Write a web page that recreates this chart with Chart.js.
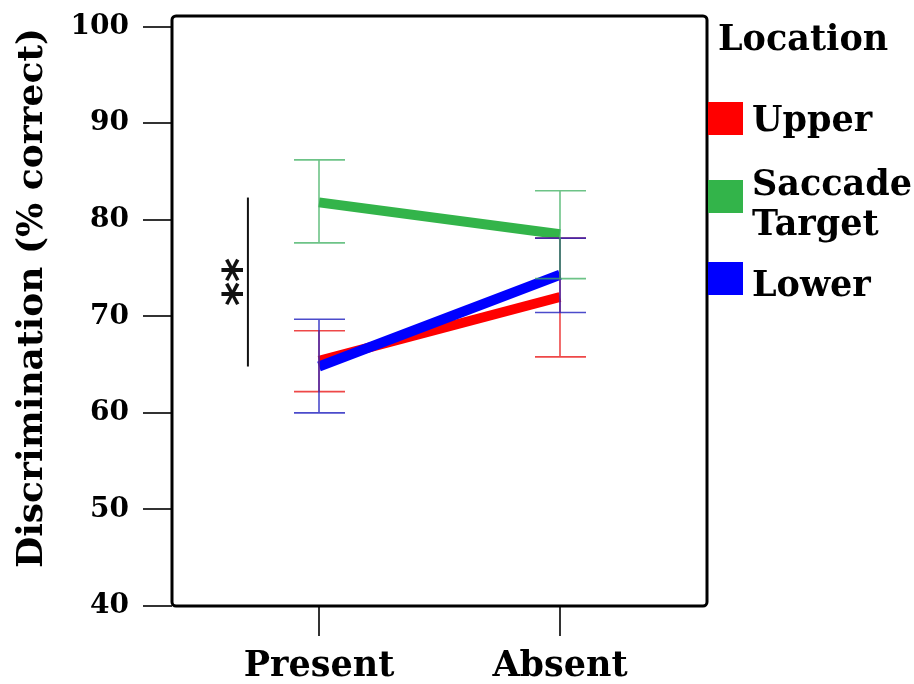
<!DOCTYPE html>
<html>
<head>
<meta charset="utf-8">
<script src="https://cdn.jsdelivr.net/npm/chart.js@4.4.0/dist/chart.umd.min.js"></script>
<style>
  html, body { margin: 0; padding: 0; background: #ffffff; }
  #wrap { width: 914px; height: 684px; position: relative; }
</style>
</head>
<body>
<div id="wrap"><canvas id="c" width="914" height="684"></canvas></div>
<script>
// ---- data ----
const categories = ['Present', 'Absent'];
const seriesNames = ['Upper', 'Saccade Target', 'Lower'];
const legendTitle = 'Location';
const yTitle = 'Discrimination (% correct)';

const upperMean = [65.4, 72.0];
const upperLow = [62.2, 65.8];
const upperHigh = [68.5, 78.1];

const saccadeMean = [81.8, 78.5];
const saccadeLow = [77.6, 73.9];
const saccadeHigh = [86.2, 83.0];

const lowerMean = [64.8, 74.3];
const lowerLow = [60.0, 70.4];
const lowerHigh = [69.7, 78.1];

const yTicks = [40, 50, 60, 70, 80, 90, 100];
const sigRange = [64.8, 82.3];
const sigLabel = '**';

// ---- styles ----
const SERIF = '"DejaVu Serif", serif';
const lineColors = ['#ff0000', '#33b44a', '#0000ff'];
const errColors = ['rgba(235,40,40,0.85)', 'rgba(60,175,95,0.75)', 'rgba(30,30,190,0.8)'];
const means = [upperMean, saccadeMean, lowerMean];
const lows = [upperLow, saccadeLow, lowerLow];
const highs = [upperHigh, saccadeHigh, lowerHigh];

const toPts = arr => arr.map((v, i) => ({ x: i, y: v }));

const overlay = {
  id: 'overlay',
  afterDatasetsDraw(chart) {
    const { ctx, chartArea: a, scales: { x, y } } = chart;
    ctx.save();
    // error bars
    [0, 2, 1].forEach(s => {
      ctx.strokeStyle = errColors[s];
      ctx.lineWidth = 1.6;
      categories.forEach((c, i) => {
        const px = x.getPixelForValue(i);
        const yl = y.getPixelForValue(lows[s][i]);
        const yh = y.getPixelForValue(highs[s][i]);
        ctx.beginPath();
        ctx.moveTo(px, yl); ctx.lineTo(px, yh);
        ctx.moveTo(px - 25, yl); ctx.lineTo(px + 26, yl);
        ctx.moveTo(px - 25, yh); ctx.lineTo(px + 26, yh);
        ctx.stroke();
      });
    });
    // significance bar
    const sx = x.getPixelForValue(-0.295);
    ctx.strokeStyle = '#111';
    ctx.lineWidth = 2;
    ctx.beginPath();
    ctx.moveTo(sx, y.getPixelForValue(sigRange[0]));
    ctx.lineTo(sx, y.getPixelForValue(sigRange[1]));
    ctx.stroke();
    ctx.save();
    ctx.translate(sx - 4, y.getPixelForValue((sigRange[0] + sigRange[1]) / 2));
    ctx.rotate(-Math.PI / 2);
    ctx.fillStyle = '#111';
    ctx.font = 'bold 46px "DejaVu Sans", sans-serif';
    ctx.textAlign = 'center';
    ctx.textBaseline = 'middle';
    ctx.fillText(sigLabel, 0, 0);
    ctx.restore();
    ctx.restore();
  },
  afterDraw(chart) {
    const { ctx, chartArea: a } = chart;
    ctx.save();
    // frame
    ctx.strokeStyle = '#000';
    ctx.lineWidth = 3;
    ctx.beginPath();
    ctx.roundRect(a.left, a.top, a.right - a.left, a.bottom - a.top, 4);
    ctx.stroke();
    // y axis title
    ctx.save();
    ctx.translate(33, 298);
    ctx.rotate(-Math.PI / 2);
    ctx.fillStyle = '#000';
    ctx.font = 'bold 36px ' + SERIF;
    ctx.textAlign = 'center';
    ctx.textBaseline = 'middle';
    ctx.fillText(yTitle, 0, 0);
    ctx.restore();
    // legend
    ctx.fillStyle = '#000';
    ctx.font = 'bold 35px ' + SERIF;
    ctx.textBaseline = 'alphabetic';
    ctx.textAlign = 'left';
    ctx.fillText(legendTitle, 718, 50);
    const boxY = [102, 180, 262];
    const labelLines = [['Upper'], ['Saccade', 'Target'], ['Lower']];
    const textY = [[131], [195, 235], [296]];
    seriesNames.forEach((n, s) => {
      ctx.fillStyle = lineColors[s];
      ctx.fillRect(708, boxY[s], 35, 33);
      ctx.fillStyle = '#000';
      labelLines[s].forEach((t, k) => ctx.fillText(t, 752, textY[s][k]));
    });
    ctx.restore();
  }
};

new Chart(document.getElementById('c'), {
  type: 'line',
  data: {
    datasets: [
      { label: seriesNames[0], data: toPts(upperMean), borderColor: lineColors[0], order: 1 },
      { label: seriesNames[1], data: toPts(saccadeMean), borderColor: lineColors[1], order: 2 },
      { label: seriesNames[2], data: toPts(lowerMean), borderColor: lineColors[2], order: 0 }
    ].map(d => Object.assign(d, { borderWidth: 10, pointRadius: 0, tension: 0, fill: false, borderCapStyle: 'butt' }))
  },
  options: {
    responsive: false,
    animation: false,
    layout: { padding: { top: 16, right: 207, left: 0, bottom: 0 } },
    plugins: { legend: { display: false }, tooltip: { enabled: false } },
    scales: {
      x: {
        type: 'linear',
        min: -0.61, max: 1.61,
        afterBuildTicks: s => { s.ticks = categories.map((c, i) => ({ value: i })); },
        afterFit: s => { s.height = 78; s.paddingLeft = 0; s.paddingRight = 0; },
        border: { display: false },
        grid: { drawOnChartArea: false, tickLength: 30, tickColor: '#333', lineWidth: 2 },
        ticks: {
          callback: v => categories[v],
          color: '#000', padding: 10,
          font: { family: SERIF, size: 35, weight: 'bold' }
        }
      },
      y: {
        min: 40, max: 101.1,
        afterBuildTicks: s => { s.ticks = yTicks.map(v => ({ value: v })); },
        afterFit: s => { s.width = 172; s.paddingTop = 0; s.paddingBottom = 0; },
        border: { display: false },
        grid: { drawOnChartArea: false, tickLength: 29, tickColor: '#333', lineWidth: 2 },
        ticks: {
          color: '#000', padding: 14,
          font: { family: SERIF, size: 28, weight: 'bold' }
        }
      }
    }
  },
  plugins: [overlay]
});
</script>
</body>
</html>
